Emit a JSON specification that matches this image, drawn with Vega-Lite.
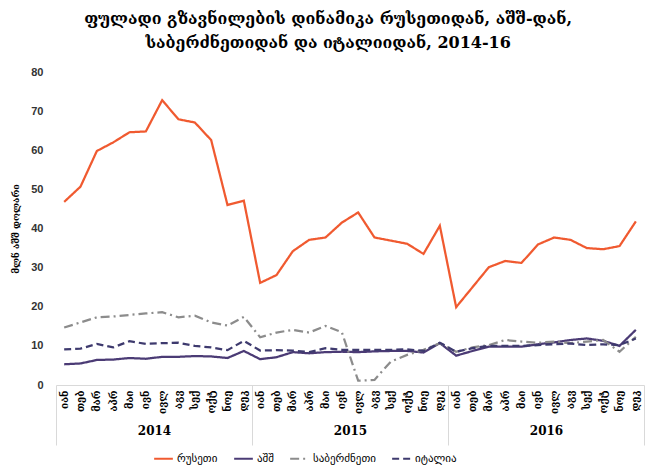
{
  "$schema": "https://vega.github.io/schema/vega-lite/v6.json",
  "autosize": {"type": "none"},
  "width": 588,
  "height": 313,
  "padding": {"left": 56, "top": 72, "right": 1, "bottom": 80},
  "title": {
    "text": ["ფულადი გზავნილების დინამიკა რუსეთიდან, აშშ-დან,", "საბერძნეთიდან და იტალიიდან, 2014-16"],
    "font": "DejaVu Serif",
    "fontSize": 16,
    "fontWeight": "bold",
    "color": "#000000",
    "anchor": "middle",
    "frame": "bounds",
    "offset": 15,
    "lineHeight": 24
  },
  "config": {
    "view": {"stroke": null},
    "font": "DejaVu Sans",
    "legend": {
      "orient": "none",
      "legendX": 97,
      "legendY": 376,
      "direction": "horizontal",
      "symbolType": "stroke",
      "symbolSize": 350,
      "symbolStrokeWidth": 2,
      "labelFont": "DejaVu Sans",
      "labelFontSize": 11,
      "labelColor": "#000000",
      "labelOffset": 3,
      "columnPadding": 12
    }
  },
  "layer": [
    {
      "data": {
        "values": [
          {"ym": "2014-01", "რუსეთი": 46.8, "აშშ": 5.3, "საბერძნეთი": 14.7, "იტალია": 9.1},
          {"ym": "2014-02", "რუსეთი": 50.7, "აშშ": 5.5, "საბერძნეთი": 16.0, "იტალია": 9.3},
          {"ym": "2014-03", "რუსეთი": 59.8, "აშშ": 6.4, "საბერძნეთი": 17.3, "იტალია": 10.5},
          {"ym": "2014-04", "რუსეთი": 62.0, "აშშ": 6.5, "საბერძნეთი": 17.5, "იტალია": 9.6},
          {"ym": "2014-05", "რუსეთი": 64.6, "აშშ": 6.9, "საბერძნეთი": 17.9, "იტალია": 11.2},
          {"ym": "2014-06", "რუსეთი": 64.8, "აშშ": 6.7, "საბერძნეთი": 18.3, "იტალია": 10.5},
          {"ym": "2014-07", "რუსეთი": 72.8, "აშშ": 7.2, "საბერძნეთი": 18.6, "იტალია": 10.7},
          {"ym": "2014-08", "რუსეთი": 67.9, "აშშ": 7.2, "საბერძნეთი": 17.3, "იტალია": 10.8},
          {"ym": "2014-09", "რუსეთი": 67.1, "აშშ": 7.4, "საბერძნეთი": 17.7, "იტალია": 10.0},
          {"ym": "2014-10", "რუსეთი": 62.6, "აშშ": 7.3, "საბერძნეთი": 16.0, "იტალია": 9.6},
          {"ym": "2014-11", "რუსეთი": 46.0, "აშშ": 6.9, "საბერძნეთი": 15.2, "იტალია": 8.9},
          {"ym": "2014-12", "რუსეთი": 47.1, "აშშ": 8.7, "საბერძნეთი": 17.4, "იტალია": 11.3},
          {"ym": "2015-01", "რუსეთი": 26.1, "აშშ": 6.6, "საბერძნეთი": 12.2, "იტალია": 8.8},
          {"ym": "2015-02", "რუსეთი": 28.1, "აშშ": 7.1, "საბერძნეთი": 13.4, "იტალია": 8.9},
          {"ym": "2015-03", "რუსეთი": 34.2, "აშშ": 8.4, "საბერძნეთი": 14.1, "იტალია": 8.8},
          {"ym": "2015-04", "რუსეთი": 37.1, "აშშ": 8.1, "საბერძნეთი": 13.4, "იტალია": 8.4},
          {"ym": "2015-05", "რუსეთი": 37.7, "აშშ": 8.4, "საბერძნეთი": 15.1, "იტალია": 9.4},
          {"ym": "2015-06", "რუსეთი": 41.5, "აშშ": 8.5, "საბერძნეთი": 13.5, "იტალია": 9.0},
          {"ym": "2015-07", "რუსეთი": 44.1, "აშშ": 8.4, "საბერძნეთი": 1.1, "იტალია": 9.0},
          {"ym": "2015-08", "რუსეთი": 37.7, "აშშ": 8.6, "საბერძნეთი": 1.3, "იტალია": 9.0},
          {"ym": "2015-09", "რუსეთი": 36.9, "აშშ": 8.7, "საბერძნეთი": 6.0, "იტალია": 9.0},
          {"ym": "2015-10", "რუსეთი": 36.1, "აშშ": 8.7, "საბერძნეთი": 7.7, "იტალია": 9.1},
          {"ym": "2015-11", "რუსეთი": 33.5, "აშშ": 8.3, "საბერძნეთი": 9.0, "იტალია": 8.7},
          {"ym": "2015-12", "რუსეთი": 40.7, "აშშ": 10.7, "საბერძნეთი": 10.7, "იტალია": 10.8},
          {"ym": "2016-01", "რუსეთი": 19.9, "აშშ": 7.5, "საბერძნეთი": 8.5, "იტალია": 8.5},
          {"ym": "2016-02", "რუსეთი": 25.0, "აშშ": 8.7, "საბერძნეთი": 9.6, "იტალია": 9.4},
          {"ym": "2016-03", "რუსეთი": 30.1, "აშშ": 9.8, "საბერძნეთი": 10.2, "იტალია": 10.0},
          {"ym": "2016-04", "რუსეთი": 31.7, "აშშ": 9.8, "საბერძნეთი": 11.5, "იტალია": 10.0},
          {"ym": "2016-05", "რუსეთი": 31.2, "აშშ": 9.8, "საბერძნეთი": 11.1, "იტალია": 10.0},
          {"ym": "2016-06", "რუსეთი": 35.9, "აშშ": 10.4, "საბერძნეთი": 10.8, "იტალია": 10.2},
          {"ym": "2016-07", "რუსეთი": 37.7, "აშშ": 10.9, "საბერძნეთი": 11.1, "იტალია": 10.4},
          {"ym": "2016-08", "რუსეთი": 37.1, "აშშ": 11.5, "საბერძნეთი": 10.7, "იტალია": 10.6},
          {"ym": "2016-09", "რუსეთი": 35.0, "აშშ": 11.9, "საბერძნეთი": 11.1, "იტალია": 10.2},
          {"ym": "2016-10", "რუსეთი": 34.7, "აშშ": 11.3, "საბერძნეთი": 11.5, "იტალია": 10.4},
          {"ym": "2016-11", "რუსეთი": 35.5, "აშშ": 10.0, "საბერძნეთი": 8.5, "იტალია": 10.2},
          {"ym": "2016-12", "რუსეთი": 41.8, "აშშ": 14.1, "საბერძნეთი": 12.3, "იტალია": 11.9}
        ]
      },
      "transform": [{"fold": ["რუსეთი", "აშშ", "საბერძნეთი", "იტალია"], "as": ["series", "value"]}],
      "mark": {"type": "line", "strokeWidth": 2.25},
      "encoding": {
        "x": {
          "field": "ym",
          "type": "ordinal",
          "axis": {
            "orient": "bottom",
            "title": null,
            "labelAngle": -90,
            "labelExpr": "['იან','თებ','მარ','აპრ','მაი','ივნ','ივლ','აგვ','სექ','ოქტ','ნოე','დეკ'][toNumber(slice(datum.value, 5)) - 1]",
            "labelFont": "DejaVu Serif",
            "labelFontSize": 10,
            "labelFontWeight": "bold",
            "labelColor": "#000000",
            "labelPadding": 5,
            "ticks": false,
            "domainColor": "#d9d9d9",
            "grid": false
          }
        },
        "y": {
          "field": "value",
          "type": "quantitative",
          "scale": {"domain": [0, 80]},
          "axis": {
            "title": "მლნ აშშ დოლარი",
            "titleFont": "DejaVu Serif",
            "titleFontSize": 9,
            "titleFontWeight": "bold",
            "titleColor": "#000000",
            "titlePadding": 10,
            "values": [0, 10, 20, 30, 40, 50, 60, 70, 80],
            "labelFont": "Liberation Sans",
            "labelFontSize": 11,
            "labelFontWeight": "bold",
            "labelColor": "#333333",
            "labelPadding": 13,
            "domain": false,
            "ticks": false,
            "grid": false
          }
        },
        "color": {
          "field": "series",
          "type": "nominal",
          "scale": {
            "domain": ["რუსეთი", "აშშ", "საბერძნეთი", "იტალია"],
            "range": ["#F05A30", "#4B3B75", "#8C8C8C", "#3E3A6E"]
          },
          "legend": {"title": null}
        },
        "strokeDash": {
          "field": "series",
          "type": "nominal",
          "scale": {
            "domain": ["რუსეთი", "აშშ", "საბერძნეთი", "იტალია"],
            "range": [[1, 0], [1, 0], [9, 4, 2, 4], [7, 4]]
          },
          "legend": {"title": null}
        }
      }
    },
    {
      "data": {"values": [{"year": "2014"}, {"year": "2015"}, {"year": "2016"}]},
      "mark": {"type": "rule", "strokeOpacity": 0},
      "encoding": {
        "x": {
          "field": "year",
          "type": "ordinal",
          "scale": {"type": "band"},
          "axis": {
            "orient": "bottom",
            "title": null,
            "domain": false,
            "grid": false,
            "tickBand": "extent",
            "tickSize": 60,
            "tickColor": "#d9d9d9",
            "labelAngle": 0,
            "labelFont": "DejaVu Serif",
            "labelFontSize": 12,
            "labelFontWeight": "bold",
            "labelColor": "#000000",
            "labelPadding": -20
          }
        }
      }
    }
  ],
  "resolve": {"scale": {"x": "independent"}, "axis": {"x": "independent"}}
}
